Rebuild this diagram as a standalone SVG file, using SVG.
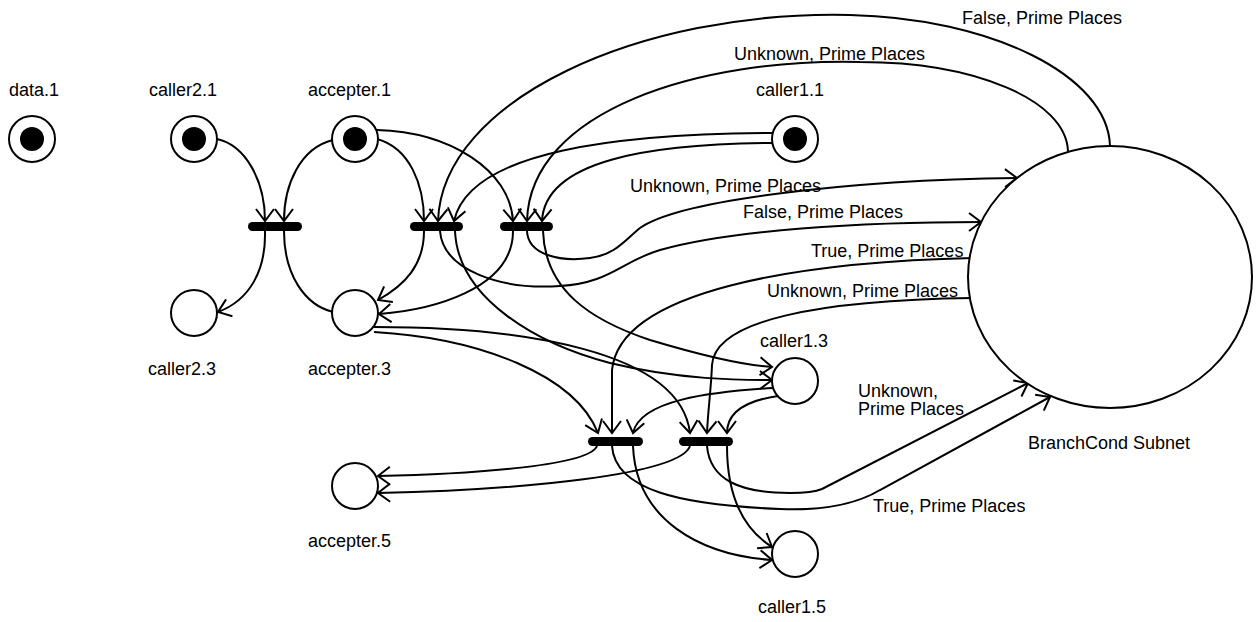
<svg xmlns="http://www.w3.org/2000/svg" width="1256" height="622" viewBox="0 0 1256 622">
  <defs>
    <style>
      text { font-family: "Liberation Sans", Arial, Helvetica, sans-serif; font-size: 18px; fill: #000; }
      .place { fill: #fff; stroke: #000; stroke-width: 2; }
      .token { fill: #000; }
      .bar { fill: #000; }
      .arc { fill: none; stroke: #000; stroke-width: 2; }
      .arc.to { marker-end: url(#head); }
    </style>
    <marker id="head" viewBox="-16 -12 20 24" markerWidth="20" markerHeight="24" refX="0" refY="0" orient="auto" markerUnits="userSpaceOnUse">
      <path d="M-12,-9 L0,0 L-12,9" fill="none" stroke="#000" stroke-width="2"/>
    </marker>
  </defs>
  <rect width="1256" height="622" fill="#fff"/>

  <!-- arcs between places and transitions -->
  <g id="arcs">
    <!-- T1 -->
    <path class="arc to" d="M217,139 C245,145 265,180 265,221"/>
    <path class="arc to" d="M333,140 C300,148 284,185 284,221"/>
    <path class="arc to" d="M265,231 C266,270 250,300 218,312"/>
    <path class="arc" d="M284,231 C284,275 305,305 333,312"/>
    <!-- T2 -->
    <path class="arc to" d="M377,139 C410,148 424,185 424,221"/>
    <path class="arc to" d="M850,15 C640,10 442,100 438,221"/>
    <path class="arc" d="M1110,146 C1108,75 990,18 850,15"/>
    <path class="arc to" d="M772,133 C620,134 470,150 454,221"/>
    <path class="arc to" d="M424,231 C424,265 405,285 378,300"/>
    <path class="arc to" d="M440,231 C443,270 500,290 560,286 C610,283 620,262 660,250 C730,230 860,222 981,222"/>
    <path class="arc to" d="M455,231 C458,300 540,345 610,363 C680,380 740,380 772,380"/>
    <!-- T3 -->
    <path class="arc to" d="M377,130 C450,132 510,170 513,221"/>
    <path class="arc to" d="M1068,151 C1066,100 975,62 860,62 C700,58 530,110 527,221"/>
    <path class="arc to" d="M772,143 C650,144 545,160 542,221"/>
    <path class="arc to" d="M513,231 C513,290 430,310 379,314"/>
    <path class="arc to" d="M527,231 C528,255 560,262 590,258 C615,255 625,240 640,228 C680,200 850,180 1017,178"/>
    <path class="arc to" d="M543,231 C545,290 590,320 650,340 C700,355 740,365 772,367"/>
    <!-- T4 -->
    <path class="arc to" d="M374,332 C480,338 575,375 598,433"/>
    <path class="arc to" d="M973,258 C800,262 620,290 612,370 L612,433"/>
    <path class="arc to" d="M773,388 C710,392 640,400 633,433"/>
    <path class="arc to" d="M597,446 C590,465 480,474 378,476"/>
    <path class="arc to" d="M612,446 C615,490 680,505 780,509 C830,511 860,502 880,490 L1050,397"/>
    <path class="arc to" d="M633,446 C636,520 700,555 772,560"/>
    <!-- T5 -->
    <path class="arc to" d="M374,327 C520,327 680,350 690,433"/>
    <path class="arc to" d="M973,298 C820,300 715,320 712,365 C711,390 708,410 707,433"/>
    <path class="arc to" d="M778,396 C750,400 727,410 727,433"/>
    <path class="arc to" d="M690,446 C680,475 520,490 378,493"/>
    <path class="arc to" d="M707,446 C710,480 740,493 790,493 C805,493 815,492 822,489 L1028,383"/>
    <path class="arc to" d="M727,446 C727,500 745,530 772,547"/>
  </g>

  <!-- arc labels -->
  <g id="arc-labels">
    <text x="962" y="24">False, Prime Places</text>
    <text x="734" y="60">Unknown, Prime Places</text>
    <text x="630" y="192">Unknown, Prime Places</text>
    <text x="743" y="218">False, Prime Places</text>
    <text x="811" y="257">True, Prime Places</text>
    <text x="767" y="297">Unknown, Prime Places</text>
    <text x="858" y="397">Unknown,</text>
    <text x="858" y="415">Prime Places</text>
    <text x="873" y="512">True, Prime Places</text>
  </g>

  <!-- places -->
  <g id="data.1">
    <circle class="place" cx="32" cy="139" r="23"/>
    <circle class="token" cx="32" cy="139" r="12"/>
    <text x="9" y="96">data.1</text>
  </g>
  <g id="caller2.1">
    <circle class="place" cx="194" cy="139" r="23"/>
    <circle class="token" cx="194" cy="139" r="12"/>
    <text x="149" y="96">caller2.1</text>
  </g>
  <g id="accepter.1">
    <circle class="place" cx="355" cy="139" r="23"/>
    <circle class="token" cx="355" cy="139" r="12"/>
    <text x="308" y="96">accepter.1</text>
  </g>
  <g id="caller1.1">
    <circle class="place" cx="795" cy="139" r="23"/>
    <circle class="token" cx="795" cy="139" r="12"/>
    <text x="756" y="96">caller1.1</text>
  </g>
  <g id="caller2.3">
    <circle class="place" cx="194" cy="313" r="23"/>
    <text x="148" y="375">caller2.3</text>
  </g>
  <g id="accepter.3">
    <circle class="place" cx="355" cy="313" r="23"/>
    <text x="308" y="375">accepter.3</text>
  </g>
  <g id="accepter.5">
    <circle class="place" cx="355" cy="486" r="23"/>
    <text x="308" y="547">accepter.5</text>
  </g>
  <g id="caller1.3">
    <circle class="place" cx="795" cy="381" r="23"/>
    <text x="760" y="347">caller1.3</text>
  </g>
  <g id="caller1.5">
    <circle class="place" cx="795" cy="554" r="23"/>
    <text x="758" y="613">caller1.5</text>
  </g>
  <g id="BranchCond">
    <ellipse class="place" cx="1110" cy="277" rx="142" ry="131"/>
    <text x="1028" y="449">BranchCond Subnet</text>
  </g>

  <!-- transitions -->
  <g id="T1"><rect class="bar" x="248" y="222" width="54" height="9" rx="4.5"/></g>
  <g id="T2"><rect class="bar" x="410" y="222" width="53" height="9" rx="4.5"/></g>
  <g id="T3"><rect class="bar" x="500" y="222" width="53" height="9" rx="4.5"/></g>
  <g id="T4"><rect class="bar" x="588" y="437" width="55" height="9" rx="4.5"/></g>
  <g id="T5"><rect class="bar" x="679" y="437" width="54" height="9" rx="4.5"/></g>
</svg>
